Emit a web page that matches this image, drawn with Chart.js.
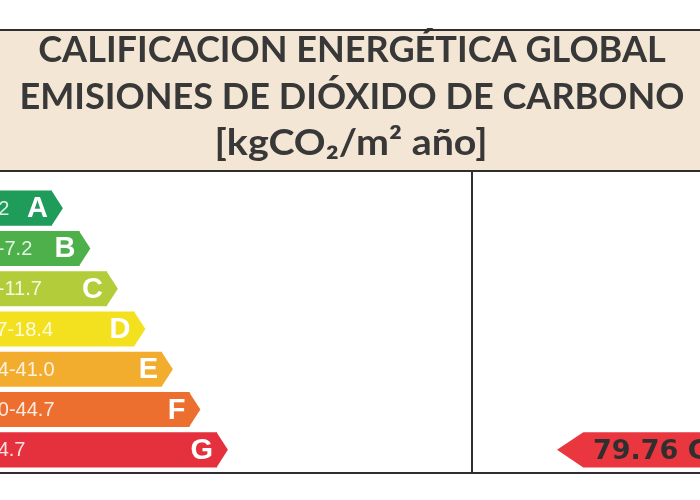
<!DOCTYPE html>
<html>
<head>
<meta charset="utf-8">
<script src="https://cdn.jsdelivr.net/npm/chart.js@4.4.1/dist/chart.umd.min.js"></script>
<style>
  html, body { margin: 0; padding: 0; background: #fff; }
</style>
</head>
<body>
<canvas id="grafico" width="700" height="500"></canvas>
<script>
// datos de la etiqueta
const clases = ['A', 'B', 'C', 'D', 'E', 'F', 'G']
const rangos = ['<5.2', '5.2-7.2', '7.2-11.7', '11.7-18.4', '18.4-41.0', '41.0-44.7', '≥ 44.7']
const largos = [2, 3, 4, 5, 6, 7, 8]
const colores = ['#1f9b5a', '#4db04a', '#b3cd3a', '#f3e11f', '#f2ad2e', '#ec6f2f', '#e5303d']
const titulo = ['CALIFICACION ENERGÉTICA GLOBAL', 'EMISIONES DE DIÓXIDO DE CARBONO', '[kgCO₂/m² año]']
const valorEdificio = 79.76
const claseEdificio = 'G'

const colorLinea = '#2e2e2e'
const fuenteTitulo = 'bold 36px Lato, "Liberation Sans", sans-serif'

const etiqueta = {
    id: 'etiqueta',
    beforeDraw(chart) {
        const ctx = chart.ctx
        ctx.save()
        ctx.fillStyle = '#fff'
        ctx.fillRect(0, 0, chart.width, chart.height)
        // franja del titulo
        ctx.fillStyle = '#f3e6d5'
        ctx.fillRect(0, 30, chart.width, 141)

        ctx.font = fuenteTitulo
        ctx.fillStyle = '#383838'
        ctx.textAlign = 'center'
        ctx.textBaseline = 'alphabetic'
        // ajustar ancho (la fuente original es mas estrecha)
        let escala = 665 / ctx.measureText(titulo[1]).width
        let escalaUnidad = 273 / ctx.measureText(titulo[2]).width
        let baselines = [62, 108.5, 155]
        titulo.forEach((t, i) => {
            ctx.save()
            ctx.translate(i == 2 ? 351 : 352, baselines[i])
            ctx.scale(i == 2 ? escalaUnidad : escala, 1)
            ctx.fillText(t, 0, 0)
            ctx.restore()
        })
        ctx.restore()
    },
    afterDatasetsDraw(chart) {
        const ctx = chart.ctx
        const meta = chart.getDatasetMeta(0)
        ctx.save()
        meta.data.forEach((bar, i) => {
            const h = bar.height
            // punta de la flecha
            ctx.fillStyle = colores[i]
            ctx.beginPath()
            ctx.moveTo(bar.x - 0.5, bar.y - h / 2)
            ctx.lineTo(bar.x + h * 0.31, bar.y)
            ctx.lineTo(bar.x - 0.5, bar.y + h / 2)
            ctx.closePath()
            ctx.fill()

            // rango
            ctx.fillStyle = 'rgba(255,255,255,0.85)'
            ctx.font = '20px "Liberation Sans", Arial, sans-serif'
            ctx.textAlign = 'left'
            ctx.textBaseline = 'middle'
            ctx.fillText(rangos[i], -30, bar.y + 1)

            // letra
            ctx.fillStyle = '#fff'
            ctx.font = 'bold 29px "Liberation Sans", Arial, sans-serif'
            ctx.textAlign = 'right'
            ctx.fillText(clases[i], bar.x - 4, bar.y + 1)
        })

        // indicador del edificio
        const idx = clases.indexOf(claseEdificio)
        const ref = meta.data[idx]
        const y = chart.scales.y.getPixelForValue(idx)
        const h = ref.height
        const punta = 557
        ctx.fillStyle = '#e9363f'
        ctx.beginPath()
        ctx.moveTo(punta, y)
        ctx.lineTo(punta + h * 0.75, y - h / 2)
        ctx.lineTo(chart.width + 5, y - h / 2)
        ctx.lineTo(chart.width + 5, y + h / 2)
        ctx.lineTo(punta + h * 0.75, y + h / 2)
        ctx.closePath()
        ctx.fill()

        ctx.fillStyle = '#2f2f2f'
        ctx.font = 'bold 27px "DejaVu Sans", sans-serif'
        ctx.textAlign = 'left'
        ctx.textBaseline = 'middle'
        ctx.fillText(valorEdificio.toFixed(2) + ' ' + claseEdificio, 593, y + 2)
        ctx.restore()
    },
    afterDraw(chart) {
        const ctx = chart.ctx
        ctx.save()
        ctx.strokeStyle = colorLinea
        ctx.lineWidth = 2
        ctx.beginPath()
        ctx.moveTo(0, 30); ctx.lineTo(chart.width, 30)
        ctx.moveTo(0, 171); ctx.lineTo(chart.width, 171)
        ctx.moveTo(472, 171); ctx.lineTo(472, 473)
        ctx.moveTo(0, 473); ctx.lineTo(chart.width, 473)
        ctx.stroke()
        ctx.restore()
    }
}

new Chart(document.getElementById('grafico'), {
    type: 'bar',
    data: {
        labels: clases,
        datasets: [
            {
                label: 'Emisiones',
                data: largos,
                backgroundColor: colores,
                borderWidth: 0,
                categoryPercentage: 1,
                barPercentage: 0.87
            }
        ]
    },
    options: {
        indexAxis: 'y',
        responsive: false,
        animation: false,
        layout: {
            padding: { top: 188, bottom: 30, left: 0, right: 0 }
        },
        scales: {
            x: { type: 'linear', min: 0.109, max: 25.56, display: false },
            y: { display: false }
        },
        plugins: {
            legend: { display: false },
            tooltip: { enabled: false }
        }
    },
    plugins: [etiqueta]
})
</script>
</body>
</html>
